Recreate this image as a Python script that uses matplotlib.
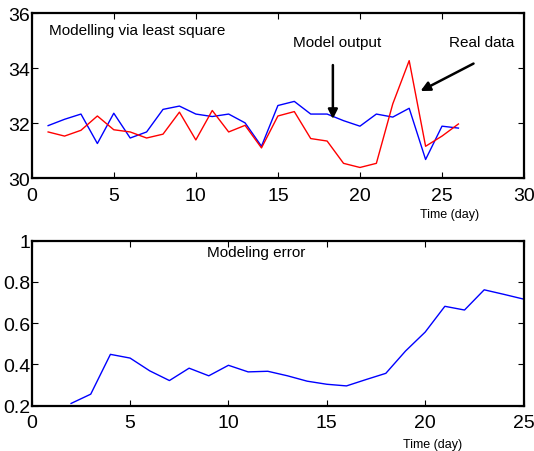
import matplotlib
matplotlib.use("Agg")
import matplotlib.pyplot as plt

plt.rcParams['font.family'] = ['Liberation Sans', 'DejaVu Sans']

days = list(range(1, 27))
model_output = [31.92, 32.15, 32.34, 31.27, 32.37, 31.47, 31.69, 32.51, 32.63, 32.34,
                32.25, 32.34, 32.02, 31.17, 32.65, 32.80, 32.34, 32.34, 32.10, 31.90,
                32.34, 32.23, 32.55, 30.69, 31.90, 31.83]
real_data = [31.69, 31.54, 31.75, 32.27, 31.77, 31.69, 31.47, 31.61, 32.41, 31.40,
             32.47, 31.69, 31.93, 31.11, 32.27, 32.43, 31.45, 31.36, 30.55, 30.40,
             30.55, 32.71, 34.28, 31.17, 31.54, 31.98]

err_days = list(range(2, 26))
model_error = [0.211, 0.256, 0.449, 0.431, 0.369, 0.322, 0.382, 0.345, 0.396, 0.364,
               0.367, 0.345, 0.319, 0.304, 0.296, 0.327, 0.357, 0.465, 0.557, 0.682,
               0.664, 0.762, 0.740, 0.717]

fig = plt.figure(figsize=(5.34, 4.52), dpi=100)
ax1 = fig.add_axes([0.0594, 0.6029, 0.922, 0.3655])
ax2 = fig.add_axes([0.0594, 0.1002, 0.921, 0.365])

for ax in (ax1, ax2):
    for s in ax.spines.values():
        s.set_linewidth(1.6)
    ax.tick_params(direction='in', length=4, width=0.8, top=True, right=True,
                   labelsize=14)
    ax.tick_params(axis='x', pad=6)
    ax.tick_params(axis='y', pad=1)

ax1.plot(days, model_output, color='#0000ff', lw=1.0)
ax1.plot(days, real_data, color='#ff0000', lw=1.0)
ax1.set_xlim(0, 30)
ax1.set_ylim(30, 36)
ax1.set_xticks([0, 5, 10, 15, 20, 25, 30])
ax1.set_yticks([30, 32, 34, 36])
ax1.text(0.035, 0.899, 'Modelling via least square', transform=ax1.transAxes,
         fontsize=11, va='center', ha='left')
ax1.text(18.6, 34.96, 'Model output', fontsize=11, ha='center', va='center')
ax1.text(27.41, 34.96, 'Real data', fontsize=11, ha='center', va='center')
ax1.annotate('', xy=(18.35, 32.06), xytext=(18.35, 34.22),
             arrowprops=dict(arrowstyle='-|>', color='black', lw=1.8,
                             mutation_scale=14))
ax1.annotate('', xy=(23.54, 33.13), xytext=(27.07, 34.22),
             arrowprops=dict(arrowstyle='-|>', color='black', lw=1.8,
                             mutation_scale=14))
ax1.text(0.848, -0.215, 'Time (day)', transform=ax1.transAxes, fontsize=9,
         ha='center', va='center')

ax2.plot(err_days, model_error, color='#0000ff', lw=1.0)
ax2.set_xlim(0, 25)
ax2.set_ylim(0.2, 1.0)
ax2.set_xticks([0, 5, 10, 15, 20, 25])
ax2.set_yticks([0.2, 0.4, 0.6, 0.8, 1.0])
ax2.set_yticklabels(['0.2', '0.4', '0.6', '0.8', '1'])
ax2.text(0.456, 0.932, 'Modeling error', transform=ax2.transAxes,
         fontsize=11, va='center', ha='center')
ax2.text(0.8156, -0.232, 'Time (day)', transform=ax2.transAxes, fontsize=9,
         ha='center', va='center')

fig.savefig('out.png', dpi=100)
